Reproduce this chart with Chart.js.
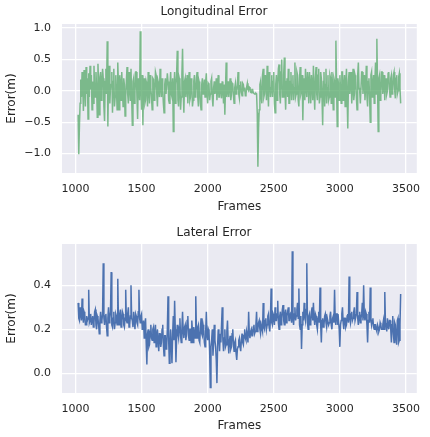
<!DOCTYPE html>
<html lang="en">
<head>
<meta charset="UTF-8">
<title>Longitudinal and Lateral Error</title>
<script src="https://cdn.jsdelivr.net/npm/chart.js"></script>
<style>
  body { margin: 0; background: #ffffff; font-family: "DejaVu Sans", sans-serif; }
  .panel { position: absolute; left: 0; width: 430px; }
  #top { top: 0; height: 218px; }
  #bottom { top: 218px; height: 219px; }
</style>
</head>
<body>
<div class="panel" id="top"><canvas id="lonChart"></canvas></div>
<div class="panel" id="bottom"><canvas id="latChart"></canvas></div>

<script>
// frames are sampled every 5, starting at 1020
const firstFrame = 1020;
const frameStep = 5;

const longitudinalError = [
  -0.38, -1.01, -0.55, -0.20, 0.18, -0.10, 0.30, 0.05, -0.32, 0.33, 0.10, -0.25, 0.38, -0.05, 0.20, -0.45, 0.28, -0.10, 0.40, 0.02,
  0.25, -0.30, 0.15, -0.20, 0.40, 0.00, -0.10, 0.30, 0.05, -0.42, 0.43, 0.10, -0.38, 0.22, 0.30, -0.15, 0.12, 0.35, 0.20, -0.25,
  -0.48, 0.15, 0.35, -0.05, 0.79, -0.57, 0.20, 0.40, -0.20, 0.05, 0.10, 0.30, -0.35, 0.15, 0.35, -0.25, -0.10, 0.25, 0.02, -0.30,
  0.45, 0.10, -0.30, 0.25, 0.15, -0.15, 0.30, 0.05, -0.25, 0.20, 0.10, -0.40, -0.10, 0.15, 0.38, -0.05, -0.20, 0.30, 0.05, -0.15,
  0.35, -0.10, -0.55, 0.15, 0.20, -0.20, -0.05, 0.30, 0.30, -0.10, -0.45, 0.20, 0.10, -0.15, 0.95, 0.05, -0.30, 0.25, -0.55, 0.10,
  0.20, -0.20, -0.15, 0.15, 0.10, -0.25, 0.30, 0.00, -0.20, 0.25, 0.05, -0.10, -0.30, 0.20, 0.18, -0.15, -0.05, 0.30, 0.25, -0.05,
  -0.25, 0.15, 0.10, -0.10, 0.35, 0.05, -0.10, 0.20, 0.02, -0.20, -0.35, 0.10, 0.20, -0.05, -0.05, 0.28, 0.15, -0.15, -0.20, 0.10,
  0.30, -0.05, -0.10, 0.20, -0.65, 0.05, 0.30, -0.20, 0.10, 0.25, 0.64, -0.15, -0.25, 0.20, 0.15, -0.30, -0.10, 0.25, 0.67, 0.00,
  -0.35, 0.15, 0.20, -0.10, 0.05, 0.25, -0.20, 0.10, 0.30, -0.15, -0.10, 0.20, 0.12, -0.25, -0.15, 0.15, 0.25, -0.10, -0.05, 0.20,
  0.30, -0.10, -0.25, 0.15, 0.10, -0.20, -0.30, 0.10, 0.20, -0.05, 0.05, 0.18, -0.10, 0.15, 0.28, -0.05, -0.20, 0.12, 0.10, -0.15,
  -0.05, 0.15, 0.20, -0.10, -0.25, 0.05, 0.15, -0.05, 0.02, 0.20, -0.15, 0.05, 0.25, -0.10, -0.10, 0.12, 0.05, -0.12, 0.15, 0.05,
  -0.20, 0.10, -0.38, 0.05, 0.45, -0.10, 0.00, 0.15, -0.10, 0.08, 0.20, -0.15, -0.05, 0.12, 0.10, -0.08, -0.20, 0.05, 0.12, -0.05,
  0.00, 0.10, 0.30, -0.05, -0.12, 0.08, 0.15, -0.02, -0.08, 0.12, 0.10, 0.00, 0.05, -0.08, -0.05, 0.06, 0.12, 0.02, 0.00, 0.06,
  0.05, -0.02, -0.03, 0.02, 0.02, -0.03, -0.04, -0.05, -0.05, -0.04, -0.05, -0.35, -1.21, -0.60, -0.30, 0.10, 0.15, -0.10, -0.20, 0.25,
  0.35, -0.10, -0.05, 0.25, 0.10, -0.15, 0.40, 0.05, -0.25, 0.30, 0.20, -0.10, 0.05, 0.25, -0.10, 0.15, 0.30, -0.20, -0.35, 0.10,
  0.25, -0.15, 0.10, 0.35, 0.42, -0.05, -0.20, 0.30, 0.50, -0.10, -0.10, 0.25, 0.53, 0.00, -0.30, 0.15, 0.20, -0.10, 0.35, -0.20,
  -0.20, 0.15, 0.30, -0.15, 0.10, 0.25, -0.15, 0.05, 0.45, -0.10, -0.05, 0.30, 0.25, -0.15, -0.25, 0.20, 0.38, -0.05, 0.00, 0.25,
  -0.47, 0.10, 0.20, -0.15, 0.35, 0.05, -0.10, 0.30, 0.15, -0.20, 0.30, 0.10, -0.20, 0.25, 0.10, -0.15, 0.40, 0.00, -0.30, 0.20,
  0.38, -0.05, -0.15, 0.25, 0.35, -0.20, -0.10, 0.30, 0.20, -0.10, -0.55, 0.15, 0.30, -0.25, 0.10, 0.35, -0.20, 0.05, 0.25, -0.15,
  -0.10, 0.25, 0.20, -0.20, 0.30, 0.05, -0.30, 0.20, 0.15, -0.10, 0.80, 0.10, -0.57, 0.20, 0.10, -0.15, 0.25, 0.05, -0.20, 0.30,
  0.30, -0.15, 0.05, 0.25, -0.25, 0.10, 0.35, -0.10, -0.60, 0.15, 0.30, -0.05, 0.10, 0.30, -0.20, 0.05, 0.35, -0.15, -0.05, 0.25,
  0.20, -0.10, -0.30, 0.25, 0.45, 0.05, 0.00, -0.20, -0.20, 0.30, 0.30, -0.05, 0.10, 0.25, -0.15, 0.05, 0.40, -0.10, -0.25, 0.15,
  0.20, -0.10, -0.50, 0.25, 0.30, -0.10, 0.10, 0.25, -0.20, 0.15, 0.45, -0.05, 0.83, 0.10, -0.65, 0.20, 0.25, -0.15, -0.10, 0.30,
  0.30, -0.05, 0.05, 0.25, -0.15, 0.10, 0.20, -0.05, 0.00, 0.28, 0.30, 0.05, -0.10, 0.20, 0.25, -0.05, 0.02, 0.25, 0.30, 0.00,
  -0.12, 0.20, 0.25, -0.05, 0.00, 0.22, 0.28, 0.05, -0.20
];

const lateralError = [
  0.32, 0.25, 0.24, 0.30, 0.27, 0.24, 0.34, 0.26, 0.23, 0.28, 0.27, 0.22, 0.22, 0.26, 0.24, 0.25, 0.38, 0.23, 0.24, 0.27,
  0.22, 0.25, 0.26, 0.21, 0.23, 0.28, 0.29, 0.22, 0.20, 0.26, 0.25, 0.22, 0.18, 0.24, 0.28, 0.23, 0.24, 0.27, 0.50, 0.25,
  0.22, 0.26, 0.27, 0.21, 0.17, 0.25, 0.30, 0.23, 0.25, 0.28, 0.46, 0.22, 0.21, 0.25, 0.28, 0.20, 0.23, 0.27, 0.26, 0.22,
  0.43, 0.24, 0.22, 0.27, 0.29, 0.21, 0.24, 0.28, 0.27, 0.22, 0.21, 0.25, 0.38, 0.24, 0.23, 0.27, 0.30, 0.21, 0.22, 0.26,
  0.40, 0.25, 0.24, 0.21, 0.28, 0.24, 0.20, 0.27, 0.26, 0.23, 0.22, 0.28, 0.38, 0.25, 0.23, 0.26, 0.27, 0.20, 0.21, 0.24,
  0.16, 0.22, 0.25, 0.14, 0.04, 0.18, 0.20, 0.12, 0.13, 0.19, 0.22, 0.16, 0.15, 0.20, 0.21, 0.14, 0.18, 0.22, 0.12, 0.17,
  0.20, 0.15, 0.10, 0.18, 0.18, 0.12, 0.14, 0.20, 0.22, 0.13, 0.08, 0.17, 0.17, 0.11, 0.12, 0.20, 0.35, 0.15, 0.045, 0.14,
  0.20, 0.12, 0.045, 0.18, 0.26, 0.15, 0.33, 0.20, 0.05, 0.16, 0.22, 0.18, 0.16, 0.21, 0.25, 0.17, 0.14, 0.20, 0.28, 0.19,
  0.16, 0.21, 0.22, 0.15, 0.18, 0.24, 0.26, 0.17, 0.15, 0.20, 0.20, 0.14, 0.24, 0.19, 0.14, 0.21, 0.19, 0.16, 0.35, 0.20,
  0.16, 0.21, 0.22, 0.15, 0.14, 0.20, 0.25, 0.18, 0.17, 0.22, 0.20, 0.14, 0.12, 0.19, 0.28, 0.17, 0.15, 0.20, 0.19, 0.10,
  -0.065, 0.12, 0.15, 0.20, 0.08, 0.14, 0.22, 0.15, 0.12, 0.06, -0.045, 0.12, 0.20, 0.16, 0.10, 0.18, 0.14, 0.22, 0.30, 0.15,
  0.10, 0.16, 0.20, 0.12, 0.13, 0.19, 0.24, 0.14, 0.09, 0.15, 0.17, 0.11, 0.12, 0.18, 0.20, 0.13, 0.10, 0.14, 0.15, 0.09,
  0.06, 0.11, 0.12, 0.15, 0.16, 0.12, 0.10, 0.15, 0.18, 0.14, 0.13, 0.17, 0.20, 0.16, 0.15, 0.19, 0.17, 0.14, 0.28, 0.18,
  0.16, 0.19, 0.20, 0.17, 0.17, 0.21, 0.22, 0.18, 0.19, 0.22, 0.28, 0.19, 0.20, 0.23, 0.24, 0.20, 0.18, 0.22, 0.22, 0.19,
  0.32, 0.21, 0.20, 0.24, 0.25, 0.20, 0.22, 0.26, 0.27, 0.21, 0.19, 0.25, 0.385, 0.23, 0.22, 0.27, 0.26, 0.22, 0.30, 0.24,
  0.24, 0.27, 0.33, 0.23, 0.20, 0.26, 0.28, 0.22, 0.25, 0.29, 0.31, 0.24, 0.22, 0.27, 0.29, 0.23, 0.26, 0.28, 0.30, 0.24,
  0.24, 0.27, 0.28, 0.23, 0.555, 0.25, 0.22, 0.27, 0.30, 0.24, 0.26, 0.29, 0.32, 0.25, 0.385, 0.22, 0.20, 0.26, 0.11, 0.22,
  0.28, 0.24, 0.32, 0.26, 0.24, 0.29, 0.50, 0.23, 0.20, 0.26, 0.27, 0.22, 0.23, 0.28, 0.30, 0.24, 0.32, 0.25, 0.22, 0.27,
  0.26, 0.22, 0.20, 0.25, 0.28, 0.23, 0.39, 0.22, 0.14, 0.24, 0.25, 0.21, 0.22, 0.26, 0.27, 0.23, 0.21, 0.25, 0.25, 0.22,
  0.23, 0.26, 0.28, 0.22, 0.20, 0.25, 0.26, 0.23, 0.38, 0.24, 0.22, 0.27, 0.27, 0.22, 0.24, 0.20, 0.12, 0.22, 0.24, 0.27,
  0.30, 0.23, 0.20, 0.25, 0.25, 0.21, 0.22, 0.26, 0.27, 0.23, 0.44, 0.25, 0.23, 0.27, 0.28, 0.24, 0.25, 0.28, 0.30, 0.24,
  0.24, 0.27, 0.37, 0.25, 0.22, 0.26, 0.28, 0.23, 0.25, 0.27, 0.32, 0.24, 0.40, 0.26, 0.24, 0.28, 0.27, 0.22, 0.14, 0.24,
  0.28, 0.23, 0.39, 0.25, 0.22, 0.24, 0.25, 0.21, 0.20, 0.22, 0.22, 0.20, 0.19, 0.22, 0.21, 0.19, 0.20, 0.23, 0.22, 0.20,
  0.20, 0.22, 0.24, 0.20, 0.37, 0.23, 0.22, 0.19, 0.25, 0.22, 0.20, 0.24, 0.24, 0.20, 0.14, 0.22, 0.26, 0.18, 0.14, 0.23,
  0.22, 0.16, 0.13, 0.24, 0.25, 0.14, 0.15, 0.22, 0.36
];

const frameTicks = [1000, 1500, 2000, 2500, 3000, 3500];
const lonTicks = [-1.0, -0.5, 0.0, 0.5, 1.0];
const latTicks = [0.0, 0.2, 0.4];

const textColor = '#262626';

// seaborn-like grey plot background
const plotBackground = {
  id: 'plotBackground',
  beforeDraw(chart) {
    const { ctx, chartArea: a } = chart;
    ctx.save();
    ctx.fillStyle = '#eaeaf2';
    ctx.fillRect(a.left, a.top, a.right - a.left, a.bottom - a.top);
    ctx.restore();
  }
};

function fmt(v) {
  return (v < 0 ? '\u2212' : '') + Math.abs(v).toFixed(1);
}

function makeChart(id, values, color, title, yMin, yMax, yTicks, titlePad, xHeight) {
  const points = values.map((v, i) => ({ x: firstFrame + i * frameStep, y: v }));
  return new Chart(document.getElementById(id), {
    type: 'line',
    data: {
      datasets: [{
        data: points,
        borderColor: color,
        borderWidth: 1.5,
        pointRadius: 0,
        tension: 0,
        fill: false
      }]
    },
    options: {
      responsive: true,
      maintainAspectRatio: false,
      animation: false,
      layout: { padding: { left: 0, right: 2, top: 0, bottom: 0 } },
      plugins: {
        legend: { display: false },
        tooltip: { enabled: false },
        title: {
          display: true,
          text: title,
          color: textColor,
          font: { family: 'DejaVu Sans', size: 12, weight: 'normal' },
          padding: titlePad
        }
      },
      scales: {
        x: {
          type: 'linear',
          min: 898,
          max: 3582,
          afterFit: s => { s.height = xHeight; },
          afterBuildTicks: s => { s.ticks = frameTicks.map(v => ({ value: v })); },
          grid: { color: '#ffffff', lineWidth: 1.3, drawTicks: false },
          border: { display: false },
          ticks: {
            color: textColor,
            padding: 10,
            maxRotation: 0,
            font: { family: 'DejaVu Sans', size: 11 },
            callback: v => String(v)
          },
          title: {
            display: true,
            text: 'Frames',
            color: textColor,
            font: { family: 'DejaVu Sans', size: 12 },
            padding: { top: 0, bottom: 4 }
          }
        },
        y: {
          min: yMin,
          max: yMax,
          afterFit: s => { s.width = 62; },
          afterBuildTicks: s => { s.ticks = yTicks.map(v => ({ value: v })); },
          grid: { color: '#ffffff', lineWidth: 1.3, drawTicks: false },
          border: { display: false },
          ticks: {
            color: textColor,
            padding: 11,
            font: { family: 'DejaVu Sans', size: 11 },
            callback: v => fmt(v)
          },
          title: {
            display: true,
            text: 'Error(m)',
            color: textColor,
            font: { family: 'DejaVu Sans', size: 12 },
            padding: { top: 5, bottom: 0 }
          }
        }
      }
    },
    plugins: [plotBackground]
  });
}

makeChart('lonChart', longitudinalError, 'rgba(85, 168, 104, 0.75)', 'Longitudinal Error',
  -1.31, 1.065, lonTicks, { top: 5, bottom: 4.6 }, 45);
makeChart('latChart', lateralError, '#4c72b0', 'Lateral Error',
  -0.09, 0.588, latTicks, { top: 8, bottom: 3.6 }, 44);
</script>
</body>
</html>
